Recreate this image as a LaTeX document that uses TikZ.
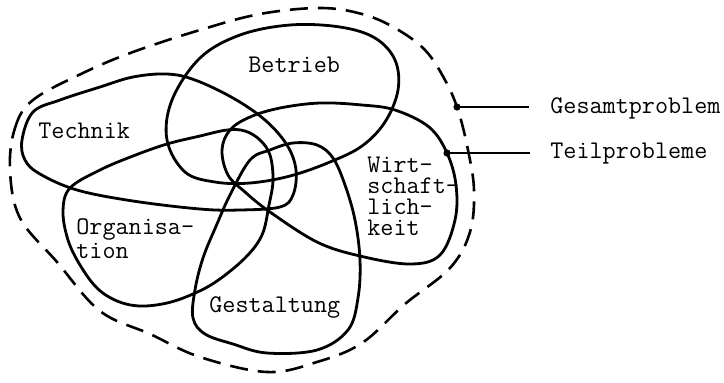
\documentclass[tikz,border=0pt]{standalone}
\usepackage{fontspec}
\begin{document}
\begin{tikzpicture}[x=0.5pt,y=-0.5pt,
  loop/.style={line width=1.4pt,line join=round},
  outer/.style={line width=1.3pt,dash pattern=on 9pt off 5pt},
  lbl/.style={font=\ttfamily\fontsize{12.7}{10.5}\selectfont,inner sep=0pt,anchor=base west,align=left},
  dotc/.style={circle,fill=black,inner sep=0pt,minimum size=3.6pt},
  lead/.style={line width=1.4pt}]
\useasboundingbox (0,0) rectangle (724,382);
% outer dashed boundary (Gesamtproblem)
\draw[outer] plot[smooth cycle,tension=0.6] coordinates {
 (10,170) (15,128) (33,100) (83,73) (133,52) (200,30) (260,14) (320,8) (362,14)
 (395,28) (425,50) (445,80) (458,110) (468,150) (474,190) (470,232) (450,268)
 (405,304) (362,343) (317,362) (267,372) (200,357) (150,334) (100,311) (57,262) (20,218)};
% Betrieb
\draw[loop] plot[smooth cycle,tension=0.6] coordinates {
 (167,140) (172,100) (200,58) (240,35) (290,25) (340,27) (375,38) (395,60) (398,90)
 (385,122) (362,146) (330,162) (290,176) (250,183) (215,182) (185,172)};
% Technik
\draw[loop] plot[smooth cycle,tension=0.6] coordinates {
 (22,140) (33,112) (60,100) (100,87) (133,77) (167,74) (195,80) (233,98) (265,120)
 (287,145) (296,170) (293,195) (280,207) (240,210) (200,209) (133,201) (77,190) (40,174) (25,160)};
% Organisation
\draw[loop] plot[smooth cycle,tension=0.6] coordinates {
 (63,211) (70,188) (100,170) (133,156) (167,144) (200,136) (227,130) (245,131) (260,140)
 (270,155) (273,180) (269,205) (262,235) (245,258) (217,281) (193,294) (167,303) (140,306)
 (117,301) (97,288) (80,265) (68,240)};
% Gestaltung
\draw[loop] plot[smooth cycle,tension=0.6] coordinates {
 (250,160) (270,150) (293,143) (317,145) (333,158) (345,185) (355,220) (360,260) (358,298)
 (348,330) (317,350) (267,353) (233,344) (205,334) (193,318) (195,290) (203,258) (217,224) (230,195)};
% Wirtschaftlichkeit
\draw[loop] plot[smooth cycle,tension=0.6] coordinates {
 (222,150) (230,130) (250,117) (280,108) (320,103) (362,105) (395,110) (429,127) (447,153)
 (456,185) (455,220) (440,255) (410,264) (360,256) (317,242) (270,212) (245,192) (228,175)};
% labels (base anchor of a multi-line node = baseline of its last line)
\node[lbl] (betrieb) at (248,72) {Betrieb};
\node[lbl] (technik) at (38,138) {Technik};
\node[lbl] (organisation) at (76,258) {Organisa-\\tion};
\node[lbl] (gestaltung) at (209,312) {Gestaltung};
\node[lbl] (wirtschaft) at (367,235) {Wirt-\\schaft-\\lich-\\keit};
\node[lbl] (gesamt) at (550,113) {Gesamtproblem};
\node[lbl] (teil) at (550,158) {Teilprobleme};
% leaders
\node[dotc] (dg) at (457,107) {};
\node[dotc] (dt) at (447,153) {};
\coordinate (eg) at (529,107);
\coordinate (et) at (530,153);
\draw[lead] (dg.center) -- (eg);
\draw[lead] (dt.center) -- (et);
\end{tikzpicture}
\end{document}
